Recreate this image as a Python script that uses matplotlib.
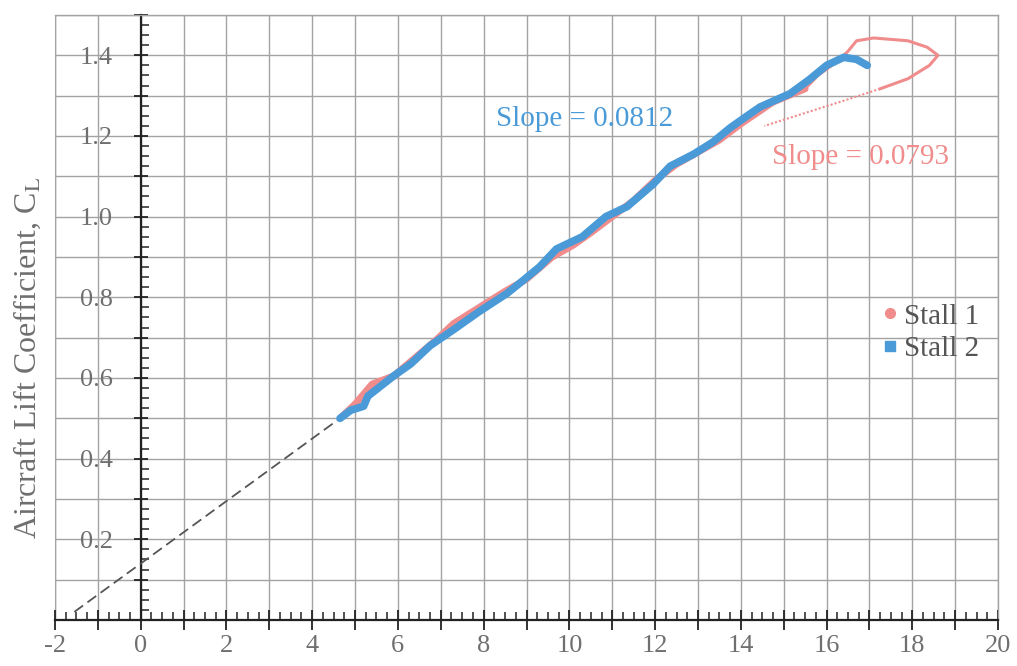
import matplotlib
matplotlib.use("Agg")
import matplotlib.pyplot as plt
from matplotlib.ticker import MultipleLocator, FuncFormatter
from matplotlib.lines import Line2D

# ===============================
#  Data
# ===============================

stall2_alpha = [4.65, 4.9, 5.2, 5.3, 5.6, 5.9, 6.3, 6.75, 7.3, 7.9, 8.55, 8.9, 9.3, 9.7,
                10.3, 10.85, 11.35, 11.95, 12.35, 12.9, 13.35, 13.75, 14.15, 14.45,
                15.15, 15.6, 16.0, 16.4, 16.7, 16.95]
stall2_cl = [0.50, 0.52, 0.53, 0.555, 0.58, 0.605, 0.635, 0.68, 0.72, 0.765, 0.81, 0.84,
             0.875, 0.92, 0.95, 1.0, 1.025, 1.08, 1.125, 1.155, 1.185, 1.22, 1.25, 1.272,
             1.305, 1.34, 1.375, 1.395, 1.39, 1.375]

stall1_alpha = [4.7, 5.0, 5.4, 5.9, 6.4, 6.9, 7.3, 7.9, 8.5, 9.0, 9.6, 10.1, 10.5, 11.0,
                11.5, 12.0, 12.5, 13.0, 13.5, 14.0, 14.75, 15.5]
stall1_cl = [0.505, 0.535, 0.585, 0.605, 0.65, 0.695, 0.735, 0.775, 0.815, 0.845, 0.9,
             0.93, 0.96, 1.0, 1.04, 1.09, 1.13, 1.16, 1.19, 1.23, 1.284, 1.317]

stall1_loop_alpha = [15.5, 15.8, 16.25, 16.5, 16.7, 17.1, 17.9, 18.35, 18.6, 18.4, 17.9, 17.25]
stall1_loop_cl = [1.317, 1.35, 1.385, 1.41, 1.436, 1.443, 1.436, 1.42, 1.40, 1.375, 1.342, 1.317]

stall1_return_alpha = [17.25, 16.3, 14.55]
stall1_return_cl = [1.317, 1.284, 1.225]

fit_alpha = [-1.55, 4.65]
fit_cl = [0.02, 0.50]

PINK = "#f08c8c"
BLUE = "#4a9ad8"
GRID = "#a3a3a3"
TEXT = "#6f6f6f"

plt.rcParams["font.family"] = ["Liberation Serif", "DejaVu Serif"]
plt.rcParams["mathtext.fontset"] = "stix"


# ===============================
#  Plot
# ===============================

def make_plot() -> None:
    fig = plt.figure(figsize=(10.17, 6.66), dpi=100)
    ax = fig.add_axes([0.0541, 0.0691, 0.9272, 0.9084])

    ax.set_xlim(-2, 20)
    ax.set_ylim(0, 1.5)

    # grid every 1 in alpha and every 0.1 in CL
    ax.xaxis.set_major_locator(MultipleLocator(1))
    ax.xaxis.set_minor_locator(MultipleLocator(0.25))
    ax.yaxis.set_major_locator(MultipleLocator(0.1))
    ax.yaxis.set_minor_locator(MultipleLocator(0.025))
    ax.grid(True, which="major", color=GRID, linewidth=1.0)
    ax.set_axisbelow(True)

    ax.xaxis.set_major_formatter(FuncFormatter(
        lambda v, p: f"{v:.0f}" if round(v) % 2 == 0 else ""))
    ax.yaxis.set_major_formatter(FuncFormatter(
        lambda v, p: f"{v:.1f}" if (round(v * 10) % 2 == 0 and 0.1 < v < 1.45) else ""))

    # y axis sits at alpha = 0
    ax.spines["left"].set_position(("data", 0))
    ax.spines["left"].set_color("#222222")
    ax.spines["left"].set_linewidth(1.6)
    ax.spines["bottom"].set_color("#222222")
    ax.spines["bottom"].set_linewidth(1.6)
    for side in ["top", "right"]:
        ax.spines[side].set_color(GRID)
        ax.spines[side].set_linewidth(1.0)
    # outer left border at alpha = -2
    ax.axvline(-2, color=GRID, linewidth=1.0, zorder=0)

    ax.tick_params(axis="x", which="major", direction="inout", length=14, width=1.3,
                   color="#222222", labelsize=19, labelcolor=TEXT, pad=4)
    ax.tick_params(axis="x", which="minor", direction="in", length=6, width=1.1,
                   color="#222222")
    ax.tick_params(axis="y", which="major", direction="inout", length=10, width=1.3,
                   color="#222222", labelsize=19, labelcolor=TEXT, pad=15)
    ax.tick_params(axis="y", which="minor", direction="in", length=6, width=1.1,
                   color="#222222")

    ax.plot(fit_alpha, fit_cl, linestyle=(0, (6, 3)), color="#555555", linewidth=1.3,
            zorder=3)

    ax.plot(stall1_alpha, stall1_cl, color=PINK, linewidth=5, solid_capstyle="round",
            zorder=4)
    ax.plot(stall1_loop_alpha, stall1_loop_cl, color=PINK, linewidth=2.2, zorder=4)
    ax.plot(stall1_return_alpha, stall1_return_cl, color=PINK, linewidth=1.5,
            linestyle=(0, (1, 1)), zorder=4)
    ax.plot(stall2_alpha, stall2_cl, color=BLUE, linewidth=5.5, solid_capstyle="round",
            zorder=5)

    ax.text(8.3, 1.242, "Slope = 0.0812", color=BLUE, fontsize=21, va="center",
            ha="left", zorder=6)
    ax.text(14.72, 1.148, "Slope = 0.0793", color=PINK, fontsize=21, va="center",
            ha="left", zorder=6)

    ax.set_ylabel("Aircraft Lift Coefficient, C$_{\\mathrm{L}}$", fontsize=23,
                  color=TEXT)
    ax.yaxis.set_label_coords(-0.013, 0.433)

    handles = [
        Line2D([], [], linestyle="none", marker="o", markersize=7, color=PINK),
        Line2D([], [], linestyle="none", marker="s", markersize=7, color=BLUE),
    ]
    leg = ax.legend(handles, ["Stall 1", "Stall 2"], loc="center left",
                    bbox_to_anchor=(0.845, 0.475), frameon=False, fontsize=21,
                    handlelength=0.8, handletextpad=0.1, labelspacing=0.2)
    for t in leg.get_texts():
        t.set_color("#555555")

    fig.savefig("out.png", dpi=100)
    plt.close(fig)


def main() -> None:
    make_plot()


if __name__ == "__main__":
    main()
